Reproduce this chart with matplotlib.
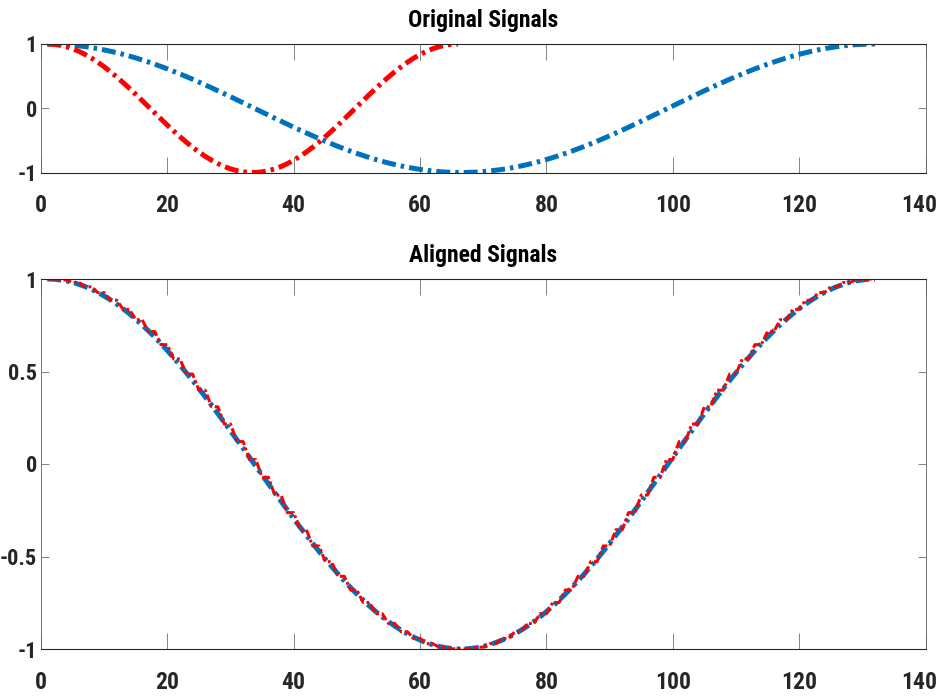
import numpy as np
import matplotlib
matplotlib.use("Agg")
import matplotlib.pyplot as plt
from matplotlib import font_manager
from matplotlib.transforms import ScaledTranslation

# Reference signal (blue) and the shorter query signal (red)
blue_signal = [
    1.000, 0.999, 0.995, 0.990, 0.982, 0.971, 0.959, 0.944, 0.927, 0.908,
    0.887, 0.864, 0.839, 0.812, 0.783, 0.752, 0.720, 0.686, 0.650, 0.613,
    0.574, 0.534, 0.493, 0.451, 0.407, 0.363, 0.318, 0.272, 0.226, 0.179,
    0.132, 0.084, 0.036, -0.012, -0.060, -0.108, -0.155, -0.202, -0.249, -0.295,
    -0.341, -0.385, -0.429, -0.472, -0.514, -0.554, -0.594, -0.631, -0.668, -0.703,
    -0.736, -0.768, -0.798, -0.826, -0.852, -0.876, -0.898, -0.918, -0.936, -0.952,
    -0.965, -0.977, -0.986, -0.993, -0.997, -1.000,
    -1.000, -0.997, -0.993, -0.986, -0.977, -0.965, -0.952, -0.936, -0.918, -0.898,
    -0.876, -0.852, -0.826, -0.798, -0.768, -0.736, -0.703, -0.668, -0.631, -0.594,
    -0.554, -0.514, -0.472, -0.429, -0.385, -0.341, -0.295, -0.249, -0.202, -0.155,
    -0.108, -0.060, -0.012, 0.036, 0.084, 0.132, 0.179, 0.226, 0.272, 0.318,
    0.363, 0.407, 0.451, 0.493, 0.534, 0.574, 0.613, 0.650, 0.686, 0.720,
    0.752, 0.783, 0.812, 0.839, 0.864, 0.887, 0.908, 0.927, 0.944, 0.959,
    0.971, 0.982, 0.990, 0.995, 0.999, 1.000,
]
red_signal = [
    1.000, 0.995, 0.981, 0.958, 0.926, 0.885, 0.836, 0.780, 0.716, 0.645,
    0.568, 0.486, 0.399, 0.309, 0.216, 0.121, 0.024, -0.072, -0.168, -0.263,
    -0.355, -0.443, -0.528, -0.607, -0.681, -0.749, -0.809, -0.862, -0.907, -0.943,
    -0.971, -0.990, -0.999,
    -0.999, -0.990, -0.971, -0.943, -0.907, -0.862, -0.809, -0.749, -0.681, -0.607,
    -0.528, -0.443, -0.355, -0.263, -0.168, -0.072, 0.024, 0.121, 0.216, 0.309,
    0.399, 0.486, 0.568, 0.645, 0.716, 0.780, 0.836, 0.885, 0.926, 0.958,
    0.981, 0.995, 1.000,
]
# Warping: every red sample is matched to two consecutive blue samples
red_repeats = 2

x_ticks = [0, 20, 40, 60, 80, 100, 120, 140]
top_y_ticks = [-1, 0, 1]
top_y_labels = ["-1", "0", "1"]
bottom_y_ticks = [-1, -0.5, 0, 0.5, 1]
bottom_y_labels = ["-1", "-0.5", "0", "0.5", "1"]
titles = ["Original Signals", "Aligned Signals"]

BLUE = "#0072BD"
RED = "#FF0000"
INK = "#262626"


def pick_font():
    """Prefer a narrow bold sans face; fall back to condensed DejaVu."""
    candidates = ["Liberation Sans Narrow", "Arial Narrow", "Roboto Condensed",
                  "PT Sans Narrow", "Barlow Condensed", "Fira Sans Extra Condensed",
                  "Fira Sans Condensed", "Pragati Narrow", "Cabin Condensed",
                  "Asap Condensed"]
    faces = font_manager.fontManager.ttflist
    for name in candidates:
        for f in faces:
            w = f.weight if isinstance(f.weight, int) else 700 if f.weight == "bold" else 400
            if f.name == name and w >= 600 and "[" not in f.fname and f.style == "normal":
                return dict(family=name, weight="bold")
    return dict(family="DejaVu Sans", stretch="condensed", weight="bold")


FONT = pick_font()
FS = 17
FS_Y = 16

blue = np.asarray(blue_signal)
red = np.asarray(red_signal)
red_aligned = np.repeat(red, red_repeats)
n_blue = np.arange(1, len(blue) + 1)
n_red = np.arange(1, len(red) + 1)
n_aligned = np.arange(1, len(red_aligned) + 1)

fig = plt.figure(figsize=(9.41, 7), dpi=100)
W, H = 941.0, 700.0
ax1 = fig.add_axes([41.0 / W, 1 - 172.5 / H, 884.5 / W, 128.5 / H])
ax2 = fig.add_axes([41.0 / W, 1 - 649.0 / H, 884.5 / W, 370.0 / H])

thick_dash = (2.8, 1.0, 0.7, 1.0)
thin_dash = (2.6, 0.9, 0.9, 0.9)

ax1.plot(n_blue, blue, color=BLUE, lw=3.6, dashes=thick_dash, dash_capstyle="butt")
ax1.plot(n_red, red, color=RED, lw=3.6, dashes=thick_dash, dash_capstyle="butt")

ax2.plot(n_blue, blue, color=BLUE, lw=3.6, dashes=thick_dash, dash_capstyle="butt")
ax2.plot(n_aligned, red_aligned, color=RED, lw=2.2, dashes=thin_dash,
         dash_capstyle="butt")

for ax, yt, yl, title in [(ax1, top_y_ticks, top_y_labels, titles[0]),
                          (ax2, bottom_y_ticks, bottom_y_labels, titles[1])]:
    ax.set_xlim(0, 140)
    ax.set_ylim(-1, 1)
    ax.set_xticks(x_ticks)
    ax.set_xticklabels([str(t) for t in x_ticks], fontsize=FS, color=INK, **FONT)
    ax.set_yticks(yt)
    ax.set_yticklabels(yl, fontsize=FS_Y, color=INK, **FONT)
    ax.tick_params(axis="x", direction="in", length=11.5, width=0.6,
                   color="#707070", top=True, pad=15.5)
    ax.tick_params(axis="y", direction="in", length=6, width=0.6,
                   color="#707070", right=True, pad=3)
    for side in ("top", "bottom"):
        ax.spines[side].set_color(INK)
        ax.spines[side].set_linewidth(0.8)
    for side in ("left", "right"):
        ax.spines[side].set_color("#606060")
        ax.spines[side].set_linewidth(0.6)
    ax.set_title(title, fontsize=FS, color="black", pad=12, **FONT)
    # keep the rightmost x label inside the figure edge
    last = ax.get_xticklabels()[-1]
    last.set_transform(last.get_transform()
                       + ScaledTranslation(-6 / 100, 0, fig.dpi_scale_trans))

fig.savefig("out.png", dpi=100)
